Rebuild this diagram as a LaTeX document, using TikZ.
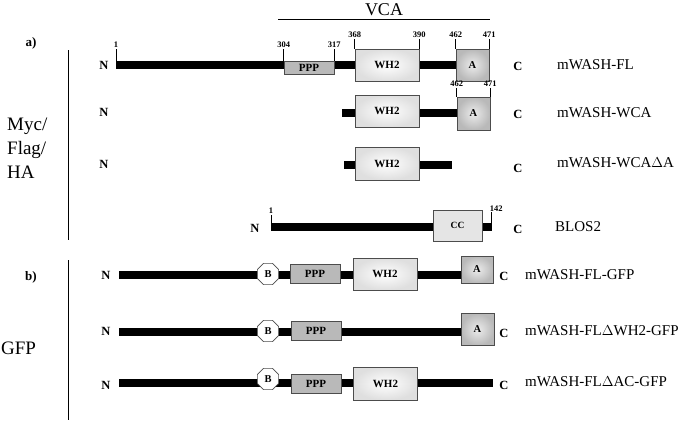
\documentclass[tikz,border=0pt]{standalone}
\usepackage{fontspec}
\setmainfont{Liberation Serif}
\usetikzlibrary{shapes.geometric}

\tikzset{
  bar/.style={line width=8pt},
  tick/.style={line width=0.6pt},
  term/.style={font=\fontsize{12.5}{12.5}\selectfont\bfseries, inner sep=0pt},
  num/.style={font=\fontsize{8.5}{8.5}\selectfont\bfseries, inner sep=0pt},
  cname/.style={font=\fontsize{15}{15}\selectfont, anchor=west, inner sep=0pt},
  dom/.style={draw=black!70, line width=0.7pt, inner sep=0pt, font=\fontsize{11}{11}\selectfont\bfseries},
  pppbox/.style={dom, fill=gray!55, minimum width=50pt},
  whbox/.style={dom, inner color=white, outer color=gray!25, minimum width=64pt, minimum height=32pt},
  abox/.style={dom, inner color=gray!15, outer color=gray!55, minimum width=33pt, font=\fontsize{10.5}{10.5}\selectfont\bfseries},
  ccbox/.style={dom, fill=gray!20, minimum width=49pt, minimum height=31pt, font=\fontsize{9.5}{9.5}\selectfont\bfseries},
  bbox/.style={dom, regular polygon, regular polygon sides=8, fill=white, minimum size=23pt, font=\fontsize{10.5}{10.5}\selectfont\bfseries}
}

\begin{document}
\begin{tikzpicture}[x=1pt, y=-1pt]
  \useasboundingbox (0,0) rectangle (685,421);

  % headings and group labels
  \coordinate (vca-l) at (278,19);
  \coordinate (vca-r) at (490,19);
  \draw[line width=0.8pt] (vca-l) -- (vca-r);
  \node[font=\fontsize{18}{18}\selectfont, inner sep=0pt, anchor=base] (vca) at (384,15) {VCA};
  \node[font=\fontsize{13}{13}\selectfont\bfseries] (parta) at (31,43) {a)};
  \node[font=\fontsize{13}{13}\selectfont\bfseries] (partb) at (31,277) {b)};
  \node[font=\fontsize{19}{24}\selectfont, align=left, inner sep=0pt, anchor=north west] (tags) at (7,118) {Myc/\\Flag/\\HA};
  \node[font=\fontsize{19}{19}\selectfont, inner sep=0pt, anchor=west] (gfp) at (1,348) {GFP};
  \coordinate (sepa-t) at (68,50);
  \coordinate (sepa-b) at (68,240);
  \coordinate (sepb-t) at (68,260);
  \coordinate (sepb-b) at (68,420);
  \draw[line width=0.8pt] (sepa-t) -- (sepa-b);
  \draw[line width=0.8pt] (sepb-t) -- (sepb-b);

  % mWASH-FL
  \coordinate (fl-n) at (116,64.5);
  \coordinate (fl-c) at (456,64.5);
  \draw[bar] (fl-n) -- (fl-c);
  \draw[tick] (116,60.5) -- (116,49) node[num, above=1pt] {1};
  \node[pppbox, minimum height=13pt] (fl-ppp) at (309,67.5) {PPP};
  \node[whbox] (fl-wh2) at (387,65) {WH2};
  \node[abox, minimum height=32pt] (fl-a) at (472.5,65) {A};
  \draw[tick] (fl-ppp.north west) -- ++(0,-12) node[num, above=1pt] {304};
  \draw[tick] (fl-ppp.north east) -- ++(0,-12) node[num, above=1pt] {317};
  \draw[tick] (fl-wh2.north west) -- ++(0,-10) node[num, above=1pt] {368};
  \draw[tick] (fl-wh2.north east) -- ++(0,-10) node[num, above=1pt] {390};
  \draw[tick] (fl-a.north west) -- ++(0,-10) node[num, above=1pt] {462};
  \draw[tick] (fl-a.north east) -- ++(0,-10) node[num, above=1pt] {471};
  \node[term] (fl-nt) at (104,65.5) {N};
  \node[term] (fl-ct) at (518,66) {C};
  \node[cname] (fl-name) at (557,65) {mWASH-FL};

  % mWASH-WCA
  \coordinate (wca-n) at (342,113);
  \coordinate (wca-c) at (457,113);
  \draw[bar] (wca-n) -- (wca-c);
  \node[whbox] (wca-wh2) at (387,111) {WH2};
  \node[abox, minimum height=33pt] (wca-a) at (473.5,113.5) {A};
  \draw[tick] (wca-a.north west) -- ++(0,-9) node[num, above=1pt] {462};
  \draw[tick] (wca-a.north east) -- ++(0,-9) node[num, above=1pt] {471};
  \node[term] (wca-nt) at (104,112) {N};
  \node[term] (wca-ct) at (518,114) {C};
  \node[cname] (wca-name) at (557,113) {mWASH-WCA};

  % mWASH-WCA delta A
  \coordinate (wcd-n) at (344,165);
  \coordinate (wcd-c) at (452,165);
  \draw[bar] (wcd-n) -- (wcd-c);
  \node[whbox, minimum height=33pt] (wcd-wh2) at (387,163.5) {WH2};
  \node[term] (wcd-nt) at (104,164) {N};
  \node[term] (wcd-ct) at (518,168) {C};
  \node[cname] (wcd-name) at (557,163) {mWASH-WCA$\Delta$A};

  % BLOS2
  \coordinate (bl-n) at (271,227);
  \coordinate (bl-c) at (492,227);
  \draw[bar] (bl-n) -- (bl-c);
  \node[ccbox] (bl-cc) at (457.5,225.5) {CC};
  \draw[tick] (271,223) -- (271,215) node[num, above=1pt] {1};
  \draw[tick] (491.5,223) -- (491.5,212) node[num, anchor=south west, xshift=-2pt] {142};
  \node[term] (bl-nt) at (255,228) {N};
  \node[term] (bl-ct) at (518,229) {C};
  \node[cname] (bl-name) at (555,227) {BLOS2};

  % mWASH-FL-GFP
  \coordinate (gfl-n) at (119,275);
  \coordinate (gfl-c) at (461,275);
  \draw[bar] (gfl-n) -- (gfl-c);
  \node[bbox] (gfl-b) at (268,274) {B};
  \node[pppbox, minimum height=19pt] (gfl-ppp) at (315,274) {PPP};
  \node[whbox] (gfl-wh2) at (385,274) {WH2};
  \node[abox, minimum height=27pt, minimum width=32pt] (gfl-a) at (477,269.5) {A};
  \node[term] (gfl-nt) at (106,275) {N};
  \node[term] (gfl-ct) at (504,276) {C};
  \node[cname] (gfl-name) at (525,275) {mWASH-FL-GFP};

  % mWASH-FL delta WH2-GFP
  \coordinate (gwh-n) at (119,331.5);
  \coordinate (gwh-c) at (461,331.5);
  \draw[bar] (gwh-n) -- (gwh-c);
  \node[bbox] (gwh-b) at (268,331) {B};
  \node[pppbox, minimum height=19pt] (gwh-ppp) at (316,331) {PPP};
  \node[abox, minimum height=32pt] (gwh-a) at (477.5,329.5) {A};
  \node[term] (gwh-nt) at (106,331.5) {N};
  \node[term] (gwh-ct) at (504,333) {C};
  \node[cname] (gwh-name) at (525,331) {mWASH-FL$\Delta$WH2-GFP};

  % mWASH-FL delta AC-GFP
  \coordinate (gac-n) at (119,383);
  \coordinate (gac-c) at (493,383);
  \draw[bar] (gac-n) -- (gac-c);
  \node[bbox] (gac-b) at (268,379) {B};
  \node[pppbox, minimum height=19pt] (gac-ppp) at (316,383.5) {PPP};
  \node[whbox, minimum height=33pt] (gac-wh2) at (385.5,383.5) {WH2};
  \node[term] (gac-nt) at (106,385) {N};
  \node[term] (gac-ct) at (504,385) {C};
  \node[cname] (gac-name) at (525,382) {mWASH-FL$\Delta$AC-GFP};
\end{tikzpicture}
\end{document}
